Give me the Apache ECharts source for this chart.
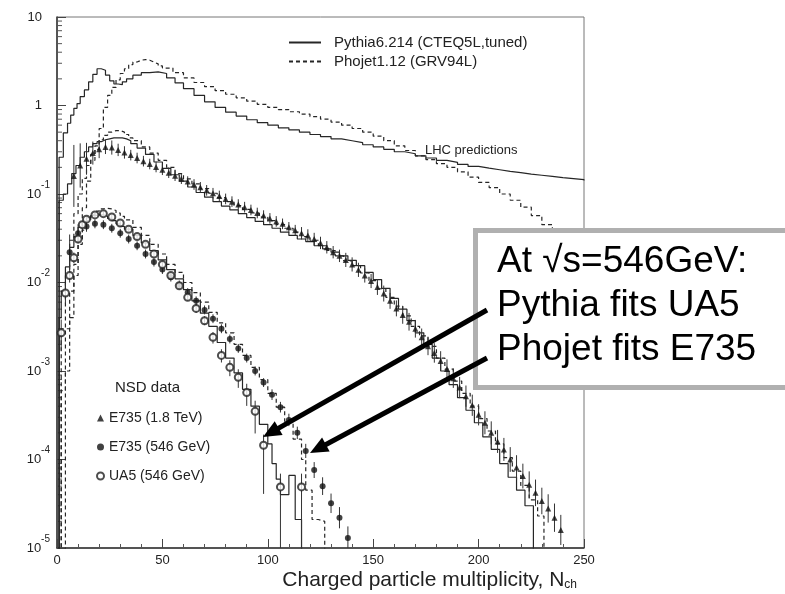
<!DOCTYPE html>
<html><head><meta charset="utf-8">
<script src="https://cdn.jsdelivr.net/npm/echarts/dist/echarts.min.js"></script>
<style>html,body{margin:0;padding:0;background:#fff}#c{width:785px;height:594px}</style>
</head><body><div id="c"></div>
<script>
const FONT = '"Liberation Sans", Arial, Helvetica, sans-serif';
const PY = 'Pythia6.214 (CTEQ5L,tuned)';
const PJ = 'Phojet1.12 (GRV94L)';
const N18 = 'E735 (1.8 TeV)', N546 = 'E735 (546 GeV)', NUA5 = 'UA5 (546 GeV)';
const xTickLabels = [0, 50, 100, 150, 200, 250];
const yDecades = [-5, -4, -3, -2, -1, 0, 1];

// LHC predictions
const pyLhcX = [0,1,3,5,6.5,8,9.5,11,13,15,17,19,21,23,25,27,29,31,33,36,40,44,48,52,56,60,65,70,75,80,85,90,95,100,105,110,115,120,125,130,135,140,145,150,155,160,165,170,175,180,185,190,195,200,205,210,215,220,225,230,235,240,245,250];
const pyLhcY = [1e-7,0.26,0.49,0.63,0.78,0.93,1.05,1.26,1.5,1.85,2.25,2.6,2.5,2.2,1.9,1.75,1.72,1.85,2.0,2.2,2.35,2.4,2.3,2.05,1.8,1.55,1.3,1.1,0.95,0.84,0.76,0.69,0.64,0.6,0.56,0.53,0.5,0.47,0.445,0.42,0.4,0.38,0.36,0.34,0.32,0.3,0.285,0.27,0.255,0.24,0.228,0.216,0.205,0.196,0.188,0.18,0.174,0.168,0.163,0.158,0.153,0.149,0.145,0.142];
const pjLhcX = [0,4,6,8,10,12,14,16,18,20,22,24,26,28,30,32,34,36,38,40,42,44,46,48,50,55,60,65,70,75,80,85,90,95,100,105,110,115,120,125,130,135,140,145,150,155,160,165,170,175,180,185,190,195,200,205,210,215,220,225,230,235,240,245,250];
const pjLhcY = [1e-7,0.001,0.004,0.012,0.03,0.07,0.14,0.24,0.32,0.55,0.95,1.3,1.6,1.95,2.3,2.6,2.9,3.1,3.25,3.3,3.25,3.1,2.95,2.8,2.65,2.35,2.05,1.82,1.63,1.47,1.34,1.22,1.12,1.03,0.95,0.9,0.85,0.8,0.75,0.7,0.65,0.6,0.55,0.5,0.45,0.4,0.35,0.31,0.27,0.245,0.22,0.2,0.178,0.155,0.135,0.118,0.1,0.085,0.071,0.057,0.045,0.033,0.022,0.014,0.009];

// 1.8 TeV
const py18X = [0,1,3,5,7,9,11,13,15,17,19,21,23,25,27,29,31,33,35,38,42,46,50,54,58,62,66,70,74,78,82,86,90,94,98,102,106,110,114,118,122,126,130,134,138,142,146,150,154,158,162,166,170,174,178,182,186,190,194,198,202,206,210,214,218,222,226];
const py18Y = [1e-7,0.085,0.1,0.13,0.17,0.21,0.26,0.3,0.34,0.37,0.39,0.41,0.42,0.43,0.43,0.43,0.42,0.4,0.37,0.33,0.28,0.23,0.195,0.165,0.14,0.12,0.104,0.092,0.082,0.073,0.066,0.06,0.054,0.049,0.045,0.041,0.037,0.034,0.031,0.029,0.026,0.024,0.022,0.02,0.0178,0.0155,0.013,0.0108,0.0086,0.0066,0.005,0.0037,0.0027,0.002,0.0014,0.001,0.0007,0.0005,0.00036,0.00026,0.00018,0.00013,0.00009,0.000063,0.000045,0.00003,1e-7];
const pj18X = [0,2,4,6,8,10,12,14,16,18,20,22,24,26,28,30,32,34,36,40,44,48,52,56,60,64,68,72,76,80,84,88,92,96,100,104,108,112,116,120,124,128,132,136,140,144,148,152,156,160,164,168,172,176,180,184,188,192,196,200,204,208,212,216,220,224,228,231];
const pj18Y = [1e-7,0.003,0.012,0.03,0.06,0.1,0.15,0.21,0.28,0.35,0.41,0.46,0.5,0.52,0.52,0.5,0.47,0.43,0.4,0.34,0.29,0.24,0.2,0.17,0.148,0.13,0.115,0.102,0.091,0.082,0.074,0.067,0.061,0.055,0.05,0.045,0.041,0.037,0.033,0.03,0.026,0.023,0.02,0.0175,0.0155,0.0128,0.0105,0.0085,0.0068,0.0054,0.0042,0.0032,0.0025,0.0019,0.0014,0.00105,0.00077,0.00056,0.0004,0.00029,0.00021,0.00015,0.000105,0.000074,0.000051,0.000035,0.000023,1e-7];
const e18X = [8,11,14,17,20,23,26,29,32,35,38,41,44,47,50,53,56,59,62,65,68,71,74,77,80,83,86,89,92,95,98,101,104,107,110,113,116,119,122,125,128,131,134,137,140,143,146,149,152,155,158,161,164,167,170,173,176,179,182,185,188,191,194,197,200,203,206,209,212,215,218,221,224,227,230,233,236,239];
const e18Y = [0.16,0.21,0.25,0.29,0.32,0.34,0.335,0.315,0.295,0.275,0.255,0.235,0.218,0.202,0.188,0.174,0.161,0.149,0.138,0.128,0.119,0.11,0.102,0.095,0.088,0.082,0.076,0.071,0.066,0.061,0.057,0.053,0.049,0.046,0.042,0.039,0.036,0.034,0.031,0.028,0.025,0.022,0.02,0.018,0.016,0.0139,0.012,0.0104,0.0089,0.0075,0.0062,0.0051,0.0043,0.0036,0.003,0.0024,0.0019,0.0016,0.0013,0.00105,0.00083,0.00065,0.00052,0.00041,0.00032,0.00026,0.0002,0.00016,0.00013,0.0001,0.000081,0.000065,0.000052,0.000042,0.000034,0.000028,0.000022,0.000016];
const e18Err = [0.35,0.25,0.18,0.13,0.1,0.08,0.08,0.07,0.07,0.06,0.06,0.06,0.06,0.06,0.06,0.06,0.06,0.06,0.06,0.06,0.06,0.06,0.06,0.06,0.06,0.06,0.06,0.06,0.06,0.06,0.06,0.06,0.06,0.06,0.06,0.06,0.07,0.07,0.07,0.07,0.07,0.07,0.07,0.08,0.08,0.08,0.08,0.08,0.09,0.09,0.09,0.09,0.1,0.1,0.1,0.1,0.1,0.11,0.11,0.11,0.11,0.12,0.12,0.12,0.12,0.13,0.13,0.13,0.13,0.14,0.14,0.14,0.15,0.15,0.15,0.16,0.16,0.17];

// 546 GeV
const py546X = [0,1,2,4,6,8,10,12,14,16,18,20,22,24,26,28,30,32,36,40,44,48,52,56,60,64,68,72,76,80,84,88,92,96,100,102,104,106,110,113,116];
const py546Y = [1e-7,0.004,0.008,0.015,0.025,0.033,0.042,0.049,0.054,0.057,0.058,0.058,0.056,0.053,0.05,0.046,0.043,0.04,0.034,0.028,0.023,0.018,0.014,0.011,0.0083,0.0062,0.0045,0.0032,0.0021,0.0014,0.00095,0.00062,0.0004,0.00025,0.00015,0.00009,0.00006,0.00004,0.000066,0.000021,1e-7];
const pj546X = [0,2,4,6,8,10,12,14,16,18,20,22,24,26,28,30,32,36,40,44,48,52,56,60,64,68,72,76,80,84,88,92,96,100,104,108,112,116,118,121,124,127];
const pj546Y = [1e-7,0.0006,0.003,0.008,0.016,0.027,0.039,0.05,0.058,0.064,0.068,0.069,0.068,0.065,0.061,0.056,0.051,0.042,0.034,0.027,0.021,0.016,0.013,0.01,0.0077,0.006,0.0046,0.0035,0.0027,0.002,0.0015,0.0011,0.0008,0.00056,0.00039,0.00027,0.00017,0.0001,0.000045,0.000021,0.00002,1e-7];
const e546X = [6,10,14,18,22,26,30,34,38,42,46,50,54,58,62,66,70,74,78,82,86,90,94,98,102,106,110,114,118,122,126,130,134,138];
const e546Y = [0.022,0.036,0.043,0.046,0.045,0.041,0.036,0.031,0.026,0.021,0.017,0.014,0.0115,0.0094,0.0077,0.0062,0.0049,0.0039,0.003,0.0023,0.0018,0.0014,0.001,0.00074,0.00054,0.00039,0.00028,0.0002,0.000125,0.000076,0.00005,0.000032,0.000022,0.000013];
const e546Err = [0.2,0.1,0.06,0.05,0.05,0.05,0.05,0.05,0.05,0.05,0.05,0.05,0.05,0.05,0.05,0.05,0.05,0.05,0.05,0.05,0.05,0.05,0.05,0.05,0.06,0.06,0.07,0.07,0.08,0.09,0.1,0.11,0.12,0.13];
const uaX = [2,4,6,8,10,12,14,18,22,26,30,34,38,42,46,50,54,58,62,66,70,74,78,82,86,90,94,98,106,116];
const uaY = [0.0027,0.0076,0.012,0.019,0.031,0.045,0.052,0.058,0.06,0.055,0.047,0.04,0.033,0.027,0.021,0.016,0.012,0.0092,0.0068,0.0051,0.0037,0.0024,0.0015,0.0011,0.00085,0.00057,0.00035,0.000145,0.000049,0.000049];
const uaErrUp = [0.15,0.1,0.08,0.06,0.05,0.04,0.03,0.03,0.03,0.03,0.03,0.03,0.03,0.03,0.03,0.03,0.04,0.04,0.04,0.05,0.05,0.06,0.07,0.08,0.09,0.1,0.12,0.12,0.15,0.15];
const uaErrDn = [0.2,0.12,0.08,0.06,0.05,0.04,0.03,0.03,0.03,0.03,0.03,0.03,0.03,0.03,0.03,0.03,0.04,0.04,0.04,0.05,0.05,0.07,0.08,0.1,0.12,0.15,0.25,0.55,3,3];

const pairs = (xs, ys) => xs.map((x, i) => [x, ys[i]]);
const errRows = (xs, ys, up, dn) => xs.map((x, i) => [x, ys[i] / Math.pow(10, dn[i]), ys[i] * Math.pow(10, up[i])]);

const LC = '#262626';
function hist(name, xs, ys, dashed) {
  return { type: 'line', name, data: pairs(xs, ys), step: 'end', symbol: 'none', showSymbol: false,
    lineStyle: { color: LC, width: 1.2, type: dashed ? [4, 3] : 'solid' }, itemStyle: { color: LC },
    clip: true, silent: true, z: 2 };
}
function errBars(name, rows) {
  return { type: 'custom', name, data: rows, clip: true, silent: true, z: 3, encode: { x: 0, y: [1, 2] },
    renderItem(p, api) {
      const a = api.coord([api.value(0), api.value(1)]);
      const b = api.coord([api.value(0), api.value(2)]);
      return { type: 'line', shape: { x1: a[0], y1: a[1], x2: b[0], y2: b[1] }, style: { stroke: '#333', lineWidth: 1 } };
    } };
}
const minorY = [];
yDecades.slice(0, -1).forEach(e => { for (let k = 2; k <= 9; k++) minorY.push([0, k * Math.pow(10, e)]); });

function arrow(x1, y1, x2, y2) {
  const dx = x2 - x1, dy = y2 - y1, L = Math.hypot(dx, dy), ux = dx / L, uy = dy / L;
  const hl = 18, hw = 8, bx = x2 - ux * hl, by = y2 - uy * hl;
  return [
    { type: 'line', z: 102, shape: { x1, y1, x2: bx + ux * 2, y2: by + uy * 2 }, style: { stroke: '#000', lineWidth: 5 } },
    { type: 'polygon', z: 102, shape: { points: [[x2, y2], [bx - uy * hw, by + ux * hw], [bx + uy * hw, by - ux * hw]] }, style: { fill: '#000' } }
  ];
}

const chart = echarts.init(document.getElementById('c'), null, { renderer: 'canvas' });
chart.setOption({
  animation: false,
  backgroundColor: '#fff',
  grid: { left: 57, right: 201, top: 17, bottom: 46, show: true, borderColor: '#777', borderWidth: 1 },
  xAxis: { type: 'value', min: 0, max: 250, interval: 50,
    axisLine: { lineStyle: { color: '#333', width: 1.5 } },
    axisTick: { inside: true, length: 9, lineStyle: { color: '#444' } },
    minorTick: { show: true, splitNumber: 5, length: 4, lineStyle: { color: '#555' } },
    splitLine: { show: false },
    axisLabel: { margin: 6, fontFamily: FONT, fontSize: 13, color: '#222',
      formatter: v => xTickLabels.includes(v) ? String(v) : '' } },
  yAxis: { type: 'log', logBase: 10, min: 1e-5, max: 10,
    axisLine: { lineStyle: { color: '#333', width: 1.5 } },
    axisTick: { inside: true, length: 9, lineStyle: { color: '#444' } },
    splitLine: { show: false },
    axisLabel: { margin: 7, color: '#222',
      formatter: v => { const e = Math.round(Math.log10(v));
        if (e === 1) return '{b|10}{e|}'; if (e === 0) return '{b|1}{e|}';
        return '{b|10}{s|-' + (-e) + '}'; },
      rich: { b: { fontFamily: FONT, fontSize: 13, color: '#222', lineHeight: 13 },
              s: { fontFamily: FONT, fontSize: 10, color: '#222', lineHeight: 10, padding: [0, 0, 18, 0] },
              e: { width: 8 } } } },
  legend: [
    { data: [PY, PJ], orient: 'vertical', left: 288, top: 35, padding: 0, itemWidth: 32, itemHeight: 10, itemGap: 4,
      itemStyle: { opacity: 0 }, selectedMode: false,
      textStyle: { fontFamily: FONT, fontSize: 15, color: '#222', padding: [0, 0, 0, 8] } },
    { data: [N18, N546, NUA5], orient: 'vertical', left: 96, top: 411, padding: 0, itemWidth: 7, itemHeight: 7, itemGap: 15,
      selectedMode: false, textStyle: { fontFamily: FONT, fontSize: 14, color: '#222' } }
  ],
  series: [
    { type: 'custom', name: 'yminor', data: minorY, clip: false, silent: true, encode: { x: 0, y: 1 },
      renderItem(p, api) { const c = api.coord([0, api.value(1)]);
        return { type: 'line', shape: { x1: c[0], y1: c[1], x2: c[0] + 5, y2: c[1] }, style: { stroke: '#555', lineWidth: 1 } }; } },
    hist(PY, pyLhcX, pyLhcY, false),
    hist(PJ, pjLhcX, pjLhcY, true),
    hist(PY, py18X, py18Y, false),
    hist(PJ, pj18X, pj18Y, true),
    hist(PY, py546X, py546Y, false),
    hist(PJ, pj546X, pj546Y, true),
    errBars('err18', errRows(e18X, e18Y, e18Err, e18Err)),
    errBars('err546', errRows(e546X, e546Y, e546Err, e546Err)),
    errBars('errUA5', errRows(uaX, uaY, uaErrUp, uaErrDn)),
    { type: 'scatter', name: N18, data: pairs(e18X, e18Y), symbol: 'triangle', symbolSize: 6, itemStyle: { color: '#111' }, z: 4, silent: true },
    { type: 'scatter', name: N546, data: pairs(e546X, e546Y), symbol: 'circle', symbolSize: 6, itemStyle: { color: '#111' }, z: 4, silent: true },
    { type: 'scatter', name: NUA5, data: pairs(uaX, uaY), symbol: 'emptyCircle', symbolSize: 7, itemStyle: { color: '#222', borderWidth: 1.2 }, z: 5, silent: true }
  ],
  graphic: [
    { type: 'text', x: 115, y: 388, z: 50, style: { text: 'NSD data', fontFamily: FONT, fontSize: 15, fill: '#222', textVerticalAlign: 'middle' } },
    { type: 'text', x: 425, y: 150, z: 50, style: { text: 'LHC predictions', fontFamily: FONT, fontSize: 13, fill: '#222', textVerticalAlign: 'middle' } },
    { type: 'text', x: 577, y: 580, z: 50, style: { text: 'Charged particle multiplicity, N{sub|ch}', fontFamily: FONT, fontSize: 21, fill: '#222',
        textAlign: 'right', textVerticalAlign: 'middle', rich: { sub: { fontFamily: FONT, fontSize: 12, fill: '#222', padding: [9, 0, 0, 0] } } } },
    { type: 'rect', z: 100, shape: { x: 475.5, y: 230.5, width: 400, height: 157 }, style: { fill: '#fff', stroke: '#b0b0b0', lineWidth: 5 } },
    { type: 'text', z: 101, x: 497, y: 262, style: { text: 'At \u221As=546GeV:', fontFamily: FONT, fontSize: 37, fill: '#000', textVerticalAlign: 'middle' } },
    { type: 'text', z: 101, x: 497, y: 306, style: { text: 'Pythia fits UA5', fontFamily: FONT, fontSize: 37, fill: '#000', textVerticalAlign: 'middle' } },
    { type: 'text', z: 101, x: 497, y: 350, style: { text: 'Phojet fits E735', fontFamily: FONT, fontSize: 37, fill: '#000', textVerticalAlign: 'middle' } },
    ...arrow(487, 310, 263, 437),
    ...arrow(487, 358, 310, 453)
  ]
});
</script></body></html>
